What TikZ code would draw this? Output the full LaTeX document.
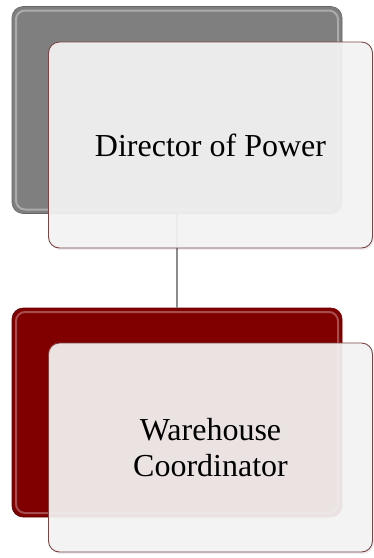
\documentclass[tikz,border=0pt]{standalone}
\usepackage{fontspec}
\setmainfont{Liberation Serif}
\begin{document}
\begin{tikzpicture}[x=1pt,y=-1pt,
  backbox/.style={draw=#1!80!black, line width=0.6pt, rounded corners=11pt, minimum width=330pt, inner sep=0pt, outer sep=0pt},
  frontbox/.style={draw=frontline, line width=0.9pt, fill=frontfill, fill opacity=0.93, text opacity=1, rounded corners=11pt, minimum width=324pt, inner sep=0pt, outer sep=0pt, align=center, font=\fontsize{32}{36}\selectfont},
  link/.style={draw=linkgray, line width=2pt}]
\definecolor{frontline}{HTML}{7A4444}
\definecolor{frontfill}{HTML}{F4F4F4}
\definecolor{linkgray}{HTML}{8C8C8C}
\definecolor{topgray}{HTML}{7F7F7F}
\definecolor{darkred}{HTML}{800000}
\useasboundingbox (0,0) rectangle (373,558);
% back boxes
\node[backbox=topgray, fill=topgray, minimum height=207pt] (b1) at (177,110) {};
\node[backbox=darkred, fill=darkred, minimum height=209pt] (b2) at (177,412.5) {};
% bevel highlights
\draw[white, opacity=0.35, line width=2pt, rounded corners=9pt] ([shift={(4,4)}]b1.north west) rectangle ([shift={(-4,-4)}]b1.south east);
\draw[white, opacity=0.3, line width=2pt, rounded corners=9pt] ([shift={(4,4)}]b2.north west) rectangle ([shift={(-4,-4)}]b2.south east);
% connector
\draw[link] (b1.south) -- (b2.north);
% shadows
\fill[black, opacity=0.07, rounded corners=11pt] (50,44) rectangle (374,250);
\fill[black, opacity=0.07, rounded corners=11pt] (50,345) rectangle (374,554);
% front boxes
\node[frontbox, minimum height=206pt] (f1) at (210.5,145) {Director of Power};
\node[frontbox, minimum height=209pt] (f2) at (210.5,447.5) {Warehouse\\Coordinator};
\end{tikzpicture}
\end{document}
